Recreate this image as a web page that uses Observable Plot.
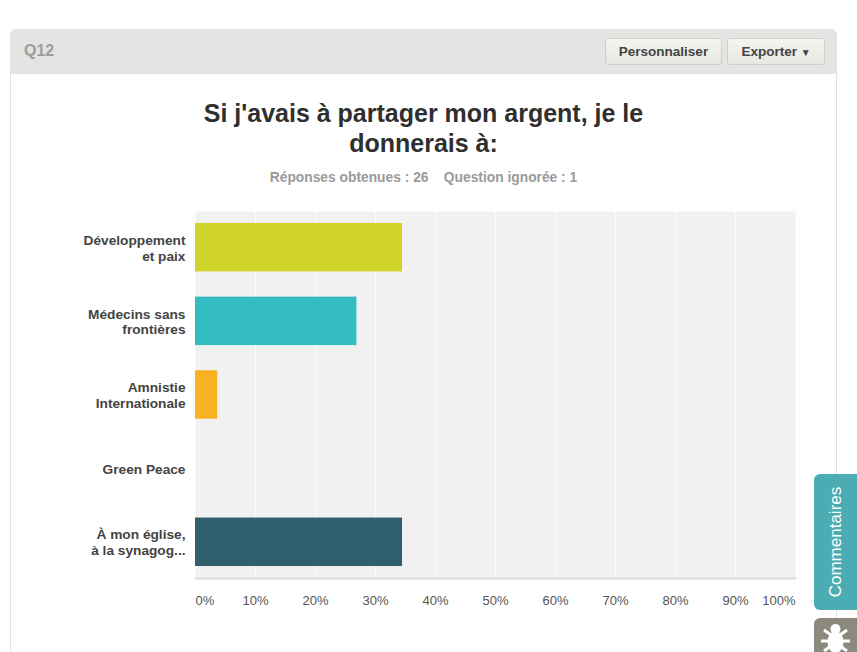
<!DOCTYPE html>
<html lang="fr"><head><meta charset="utf-8">
<script src="https://cdn.jsdelivr.net/npm/d3@7"></script>
<script src="https://cdn.jsdelivr.net/npm/@observablehq/plot@0.6"></script>
<style>
html,body{margin:0;padding:0;background:#fff;overflow:hidden}
body{width:857px;height:652px;position:relative;font-family:"Liberation Sans",Arial,sans-serif}
.card{position:absolute;left:10px;top:29px;width:825px;height:640px;border:1px solid #e2e2e0;border-radius:6px 6px 0 0;box-sizing:content-box}
.head{position:absolute;left:10px;top:29px;width:827px;height:45px;background:#e4e4e2;border-radius:6px 6px 0 0}
.q{position:absolute;left:14px;top:13px;font-size:16px;font-weight:bold;color:#9c9c9c}
.btn{position:absolute;top:9px;height:25px;line-height:25px;text-align:center;font-size:13.5px;font-weight:bold;color:#444;background:linear-gradient(#f4f4f1,#e7e7e3);border:1px solid #cfcfca;border-radius:3px;box-sizing:content-box}
h1{position:absolute;left:10px;width:827px;top:98px;margin:0;text-align:center;font-size:25px;line-height:30px;font-weight:bold;color:#2f2f2f}
.sub{position:absolute;left:10px;width:827px;top:170px;text-align:center;font-size:13.8px;font-weight:bold;color:#9a9a9a;white-space:pre}
#chart{position:absolute;left:0;top:200px}
.tab{position:absolute;left:814px;width:43px;border-radius:6px 0 0 6px}
.com{top:474px;height:136px;background:#4cacb4}
.com span{position:absolute;left:50%;top:50%;transform:translate(-50%,-50%) rotate(-90deg);color:#fff;font-size:17px;white-space:nowrap}
.bug{top:618px;height:40px;background:#8c8a7c}
</style></head><body>
<div class="card"></div>
<div class="head"><div class="q">Q12</div>
<div class="btn" style="left:595px;width:115px">Personnaliser</div>
<div class="btn" style="left:717px;width:96px">Exporter <span style="font-size:10px">▼</span></div></div>
<h1>Si j'avais à partager mon argent, je le<br>donnerais à:</h1>
<div class="sub">Réponses obtenues : 26    Question ignorée : 1</div>
<div id="chart"></div>
<div class="tab com"><span>Commentaires</span></div>
<div class="tab bug"><svg width="43" height="40" viewBox="0 0 43 40"><g stroke="#fff" stroke-width="3" fill="none"><path d="M10 12l7 5M33 12l-7 5M7 23h10M36 23h-10M10 33l7-5M33 33l-7-5"/></g><ellipse cx="21.5" cy="24" rx="8" ry="11" fill="#fff"/><circle cx="21.5" cy="11" r="5" fill="#fff"/></svg></div>
<script>
const categories = ["Développement\net paix","Médecins sans\nfrontières","Amnistie\nInternationale","Green Peace","À mon église,\nà la synagog..."];
const values = [34.5,26.9,3.7,0,34.5];
const colors = ["#d0d32a","#33bdc0","#f8b11f","#8c8a7c","#2f5f6d"];
const ticks = [0,10,20,30,40,50,60,70,80,90,100];
const rows = categories.map((c,i)=>({c,v:values[i],col:colors[i]}));
const plot = Plot.plot({
  width:857,height:452,
  marginLeft:195,marginRight:62,marginTop:11,marginBottom:74,
  style:{fontFamily:'"Liberation Sans",Arial,sans-serif',background:"transparent"},
  x:{domain:[0,100],axis:null},
  y:{domain:categories,paddingInner:0.342,paddingOuter:0.163,round:false,axis:null},
  marks:[
    Plot.frame({fill:"#f1f1f1",stroke:null}),
    Plot.ruleX(ticks.slice(1,-1),{stroke:"#fbfbfb",strokeWidth:1}),
    Plot.frame({anchor:"bottom",stroke:"#dcdcdc",strokeWidth:2}),
    Plot.barX(rows,{x:"v",y:"c",fill:"col"}),
    Plot.axisY({domain:categories,tickSize:0,tickPadding:10,fontWeight:"bold",fontSize:13.7,fill:"#444",label:null,lineHeight:1.15}),
    Plot.axisX(ticks.slice(1,-1),{anchor:"bottom",tickSize:0,tickPadding:17,fontSize:13,fill:"#555",label:null,tickFormat:d=>d+"%"}),
    Plot.text([0],{x:d=>d,frameAnchor:"bottom",dy:26,textAnchor:"start",text:d=>d+"%",fontSize:13,fill:"#555"}),
    Plot.text([100],{x:d=>d,frameAnchor:"bottom",dy:26,textAnchor:"end",text:d=>d+"%",fontSize:13,fill:"#555"})
  ]
});
document.getElementById("chart").append(plot);
</script></body></html>
